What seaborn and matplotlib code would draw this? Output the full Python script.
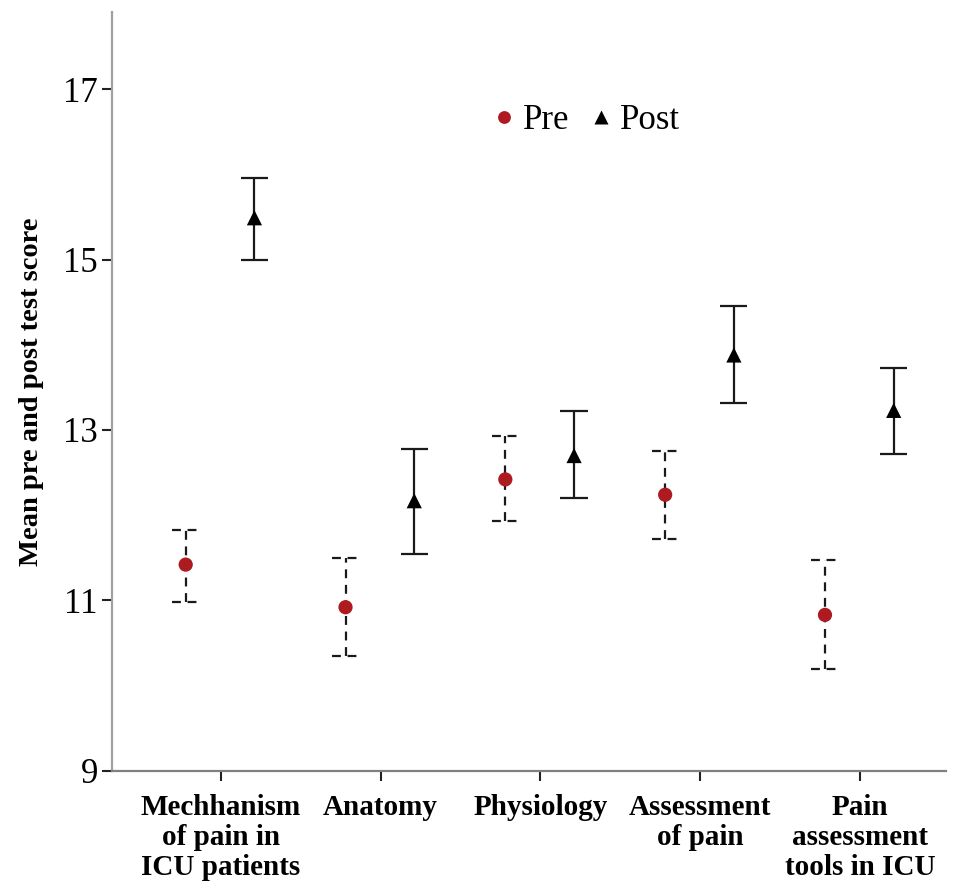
import numpy as np
import pandas as pd
import matplotlib
matplotlib.use('Agg')
import matplotlib.pyplot as plt
import seaborn as sns

# --- DATA
topics = ['Mechhanism\nof pain in\nICU patients', 'Anatomy', 'Physiology',
          'Assessment\nof pain', 'Pain\nassessment\ntools in ICU']
pre_mean = [11.42, 10.92, 12.42, 12.24, 10.83]
pre_low = [10.98, 10.35, 11.93, 11.72, 10.20]
pre_high = [11.83, 11.50, 12.93, 12.75, 11.47]
post_mean = [15.49, 12.17, 12.70, 13.88, 13.23]
post_low = [15.00, 11.54, 12.20, 13.32, 12.72]
post_high = [15.96, 12.78, 13.22, 14.45, 13.73]

df = pd.DataFrame({
    'topic': topics * 2,
    'test': ['Pre'] * 5 + ['Post'] * 5,
    'mean': pre_mean + post_mean,
    'low': pre_low + post_low,
    'high': pre_high + post_high,
})
offsets = {'Pre': -0.22, 'Post': 0.21}
df['x'] = [topics.index(t) + offsets[g] for t, g in zip(df['topic'], df['test'])]

sns.set_style('white')
plt.rcParams['font.family'] = ['Liberation Serif', 'DejaVu Serif']
plt.rcParams['text.color'] = 'black'
plt.rcParams['xtick.color'] = 'black'
plt.rcParams['ytick.color'] = 'black'
plt.rcParams['axes.labelcolor'] = 'black'

fig = plt.figure(figsize=(9.56, 8.83), dpi=100)
ax = fig.add_axes([0.117, 0.127, 0.873, 0.859])

# --- ERROR BARS
cap = 0.085
for g, ls in [('Pre', (0, (4, 3))), ('Post', '-')]:
    d = df[df['test'] == g]
    ax.vlines(d['x'], d['low'], d['high'], colors='#1a1a1a', linewidth=1.6, linestyles=ls)
    ax.hlines(d['low'], d['x'] - cap, d['x'] + cap, colors='#1a1a1a', linewidth=1.6, linestyles=ls)
    ax.hlines(d['high'], d['x'] - cap, d['x'] + cap, colors='#1a1a1a', linewidth=1.6, linestyles=ls)

# --- MEANS
sns.scatterplot(data=df, x='x', y='mean', hue='test', style='test',
                palette={'Pre': '#ad1a20', 'Post': 'black'},
                markers={'Pre': 'o', 'Post': '^'}, size='test',
                sizes={'Pre': 105, 'Post': 120}, edgecolor='none', zorder=3, ax=ax)

ax.set_xlim(-0.682, 4.54)
ax.set_ylim(9, 17.9)
ax.set_yticks([9, 11, 13, 15, 17])
ax.set_xticks(range(len(topics)))
ax.set_xticklabels(topics, fontweight='bold', fontsize=21, linespacing=1.12)
ax.tick_params(axis='y', labelsize=25, length=7, width=1.5, color='#222222', direction='out', left=True, pad=3)
ax.tick_params(axis='x', length=7, width=1.5, color='#222222', direction='out', bottom=True, pad=10)
ax.set_xlabel('')
ax.set_ylabel('Mean pre and post test score', fontweight='bold', fontsize=20.5, labelpad=14)

for s in ['top', 'right']:
    ax.spines[s].set_visible(False)
ax.spines['left'].set_color('#a0a0a0')
ax.spines['left'].set_linewidth(1.6)
ax.spines['bottom'].set_color('#808080')
ax.spines['bottom'].set_linewidth(1.6)

h, l = ax.get_legend_handles_labels()
ax.legend(h, l, loc='center', bbox_to_anchor=(0.565, 0.857), ncol=2, frameon=False,
          fontsize=25, handletextpad=0.05, columnspacing=0.4, handlelength=1.0,
          markerscale=0.9, borderaxespad=0)

fig.savefig('out.png', dpi=100)
